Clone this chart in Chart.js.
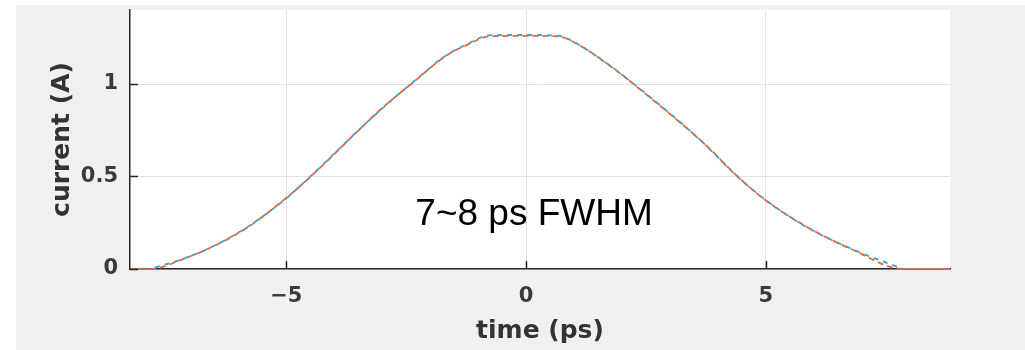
<!DOCTYPE html>
<html>
<head>
<meta charset="utf-8">
<script src="https://cdn.jsdelivr.net/npm/chart.js@4/dist/chart.umd.min.js"></script>
<style>
  html, body { margin: 0; padding: 0; background: #ffffff; }
  #wrap { width: 1025px; height: 350px; }
</style>
</head>
<body>
<div id="wrap"><canvas id="c" width="1025" height="350"></canvas></div>
<script>
// ---- data ----
const timePs = [-8.26, -7.84, -7.10, -6.55, -5.78, -5.03, -4.49, -3.63, -3.00, -2.35, -1.65, -1.24, -0.75, 0.00, 0.65, 0.98, 1.80, 2.38, 3.07, 3.77, 4.35, 4.96, 5.84, 6.81, 7.86, 8.84];
const currentSim = [0, 0, 0.059, 0.119, 0.23, 0.378, 0.50, 0.715, 0.87, 1.01, 1.156, 1.21, 1.258, 1.26, 1.258, 1.228, 1.09, 0.97, 0.823, 0.665, 0.515, 0.378, 0.23, 0.104, 0, 0];
const currentMeas = [null, 0, 0.06, 0.12, 0.232, 0.376, 0.502, 0.717, 0.868, 1.012, 1.158, 1.214, 1.264, 1.265, 1.262, 1.23, 1.088, 0.972, 0.825, 0.663, 0.513, 0.38, 0.228, 0.106, 0, null];
const xTickValues = [-5, 0, 5];
const yTickValues = [0, 0.5, 1];
const xLabel = 'time (ps)';
const yLabel = 'current (A)';
const noteText = '7~8 ps FWHM';
const noteAt = { x: -2.31, y: 0.239 };

const pts = (ys) => timePs.map((t, i) => ({ x: t, y: ys[i] }));

const bgPlugin = {
  id: 'bg',
  beforeDraw(chart) {
    const { ctx, width, height, chartArea: a } = chart;
    ctx.save();
    ctx.fillStyle = '#ffffff';
    ctx.fillRect(0, 0, width, height);
    ctx.fillStyle = '#f0f0f0';
    ctx.fillRect(16, 5, width - 16, height - 5);
    ctx.fillStyle = '#ffffff';
    ctx.fillRect(a.left, a.top, a.right - a.left, a.bottom - a.top);
    ctx.restore();
  }
};

const tickPlugin = {
  id: 'inTicks',
  afterDraw(chart) {
    const { ctx, chartArea: a, scales } = chart;
    ctx.save();
    ctx.strokeStyle = '#262626';
    ctx.lineWidth = 1.5;
    ctx.beginPath();
    xTickValues.forEach(v => {
      const px = Math.round(scales.x.getPixelForValue(v)) + 0.5;
      ctx.moveTo(px, a.bottom);
      ctx.lineTo(px, a.bottom - 8);
    });
    yTickValues.forEach(v => {
      const py = Math.round(scales.y.getPixelForValue(v)) + 0.5;
      ctx.moveTo(a.left, py);
      ctx.lineTo(a.left + 8, py);
    });
    ctx.stroke();
    // annotation text
    ctx.fillStyle = '#000000';
    ctx.font = '37px "Liberation Sans", Arial, sans-serif';
    ctx.textAlign = 'left';
    ctx.textBaseline = 'alphabetic';
    ctx.fillText(noteText, scales.x.getPixelForValue(noteAt.x), scales.y.getPixelForValue(noteAt.y));
    ctx.restore();
  }
};

const tickFont = { family: '"DejaVu Sans", sans-serif', size: 21, weight: 'bold' };
const titleFont = { family: '"DejaVu Sans", sans-serif', size: 25, weight: 'bold' };

new Chart(document.getElementById('c'), {
  type: 'line',
  data: {
    datasets: [
      {
        label: 'simulated',
        data: pts(currentSim),
        borderColor: '#e2683c',
        borderWidth: 1.8,
        borderDash: [6, 4],
        segment: {
          borderDash: ctx => (ctx.p0.parsed.y === 0 && ctx.p1.parsed.y === 0) ? [] : [6, 4]
        },
        pointRadius: 0,
        cubicInterpolationMode: 'monotone',
        fill: false,
        order: 1
      },
      {
        label: 'measured',
        data: pts(currentMeas),
        borderColor: '#33a6d8',
        borderWidth: 1.8,
        borderDash: [5, 5],
        borderDashOffset: -5,
        pointRadius: 0,
        cubicInterpolationMode: 'monotone',
        spanGaps: false,
        fill: false,
        order: 2
      }
    ]
  },
  options: {
    responsive: false,
    animation: false,
    devicePixelRatio: 1,
    layout: { padding: { left: 0, top: 10, right: 75, bottom: 0 } },
    plugins: { legend: { display: false }, tooltip: { enabled: false } },
    scales: {
      x: {
        type: 'linear',
        min: -8.26,
        max: 8.84,
        afterFit: s => { s.height = 81; s.paddingLeft = 0; s.paddingRight = 0; },
        afterBuildTicks: s => { s.ticks = xTickValues.map(v => ({ value: v })); },
        ticks: {
          font: tickFont,
          color: '#3a3a3a',
          padding: 15,
          callback: v => String(v).replace('-', '\u2212')
        },
        grid: { color: '#e2e2e2', lineWidth: 1, drawTicks: false },
        border: { display: true, color: '#262626', width: 1.5 },
        title: { display: true, text: xLabel, font: titleFont, color: '#333333', padding: { top: 0, bottom: 4 } }
      },
      y: {
        type: 'linear',
        min: 0,
        max: 1.4,
        afterFit: s => { s.width = 130; s.paddingTop = 0; s.paddingBottom = 0; },
        afterBuildTicks: s => { s.ticks = yTickValues.map(v => ({ value: v })); },
        ticks: { font: tickFont, color: '#3a3a3a', padding: 12, callback: v => String(v) },
        grid: { color: '#e2e2e2', lineWidth: 1, drawTicks: false },
        border: { display: true, color: '#262626', width: 1.5 },
        title: { display: true, text: yLabel, font: titleFont, color: '#333333', padding: { top: 47, bottom: 0 } }
      }
    }
  },
  plugins: [bgPlugin, tickPlugin]
});
</script>
</body>
</html>
